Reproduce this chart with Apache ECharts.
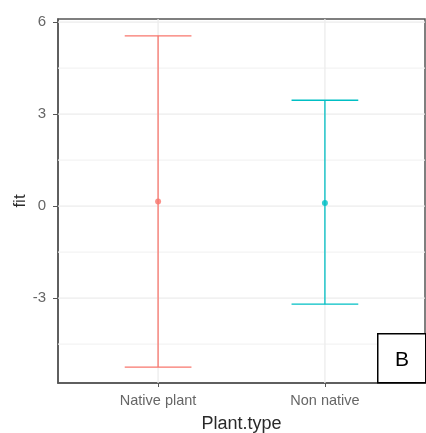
<!DOCTYPE html>
<html>
<head>
<meta charset="utf-8">
<script src="https://cdn.jsdelivr.net/npm/echarts@6/dist/echarts.min.js"></script>
<style>html,body{margin:0;padding:0;background:#fff}#c{width:426px;height:433px}</style>
</head>
<body>
<div id="c"></div>
<script>
const categories = ['Native plant', 'Non native'];
const fitValues = [0.15, 0.1];
const lowerValues = [-5.25, -3.2];
const upperValues = [5.55, 3.45];
const seriesColors = ['#F8766D', '#00BFC4'];
const yTicks = [-3, 0, 3, 6];
const yMinorTicks = [-4.5, -1.5, 1.5, 4.5];
const xPositions = [1, 2];

const Y_MIN = -5.77, Y_MAX = 6.1, X_MIN = 0.4, X_MAX = 2.6, CAP = 0.2;

const chart = echarts.init(document.getElementById('c'), null, {renderer: 'canvas'});

const errData = categories.map((c, i) => [xPositions[i], lowerValues[i], upperValues[i], i]);
const ptData = categories.map((c, i) => ({value: [xPositions[i], fitValues[i]], itemStyle: {color: seriesColors[i]}}));

chart.setOption({
  animation: false,
  grid: {left: 58, top: 19, right: 1, bottom: 50, containLabel: false, outerBoundsMode: 'none', show: true, borderColor: '#555', borderWidth: 1.5, backgroundColor: '#fff'},
  xAxis: {
    type: 'value', min: X_MIN, max: X_MAX,
    axisLine: {show: true, onZero: false, lineStyle: {color: '#555', width: 1.5}},
    axisTick: {show: true, customValues: xPositions, length: 4, lineStyle: {color: '#555'}},
    axisLabel: {customValues: xPositions, formatter: v => categories[Math.round(v) - 1], color: '#666', fontSize: 14.5, fontFamily: 'Liberation Sans', margin: 10},
    splitLine: {show: false},
    name: 'Plant.type', nameLocation: 'middle', nameGap: 32,
    nameTextStyle: {color: '#2a2a2a', fontSize: 18, fontFamily: 'Liberation Sans'}
  },
  yAxis: {
    type: 'value', min: Y_MIN, max: Y_MAX,
    axisLine: {show: true, onZero: false, lineStyle: {color: '#555', width: 1.5}},
    axisTick: {show: true, customValues: yTicks, length: 5, lineStyle: {color: '#555'}},
    axisLabel: {customValues: yTicks, color: '#666', fontSize: 15, fontFamily: 'Liberation Sans', margin: 12},
    splitLine: {show: false},
    name: 'fit', nameLocation: 'middle', nameGap: 29, nameMoveOverlap: false, nameRotate: 90,
    nameTextStyle: {color: '#2a2a2a', fontSize: 17, fontFamily: 'Liberation Sans'}
  },
  series: [
    {
      type: 'custom', z: 1, silent: true,
      data: [0],
      renderItem: (params, api) => {
        const children = [];
        const x0 = api.coord([X_MIN, 0])[0], x1 = api.coord([X_MAX, 0])[0];
        const yt = api.coord([0, Y_MAX])[1], yb = api.coord([0, Y_MIN])[1];
        yMinorTicks.forEach(v => {
          const y = api.coord([0, v])[1];
          children.push({type: 'line', shape: {x1: x0, y1: y, x2: x1, y2: y}, style: {stroke: '#f3f3f3', lineWidth: 1.2}});
        });
        yTicks.forEach(v => {
          const y = api.coord([0, v])[1];
          children.push({type: 'line', shape: {x1: x0, y1: y, x2: x1, y2: y}, style: {stroke: '#ececec', lineWidth: 1.3}});
        });
        xPositions.forEach(v => {
          const x = api.coord([v, 0])[0];
          children.push({type: 'line', shape: {x1: x, y1: yt, x2: x, y2: yb}, style: {stroke: '#ececec', lineWidth: 1.3}});
        });
        return {type: 'group', children};
      }
    },
    {
      type: 'custom', z: 3,
      data: errData,
      renderItem: (params, api) => {
        const x = api.value(0), lo = api.value(1), hi = api.value(2), idx = api.value(3);
        const pLo = api.coord([x, lo]), pHi = api.coord([x, hi]);
        const l = api.coord([x - CAP, lo])[0], r = api.coord([x + CAP, lo])[0];
        const st = {stroke: seriesColors[idx], lineWidth: 1.3};
        return {type: 'group', children: [
          {type: 'line', shape: {x1: pLo[0], y1: pLo[1], x2: pHi[0], y2: pHi[1]}, style: st},
          {type: 'line', shape: {x1: l, y1: pHi[1], x2: r, y2: pHi[1]}, style: st},
          {type: 'line', shape: {x1: l, y1: pLo[1], x2: r, y2: pLo[1]}, style: st}
        ]};
      }
    },
    {
      type: 'scatter', z: 4, symbolSize: 6,
      data: ptData
    }
  ],
  graphic: [
    {type: 'rect', left: 377, top: 333, shape: {width: 48, height: 49}, style: {fill: '#fff', stroke: '#000', lineWidth: 1.5}, z: 100},
    {type: 'text', x: 402, y: 360, style: {text: 'B', fontSize: 21, fontFamily: 'Liberation Sans', fill: '#000', align: 'center', verticalAlign: 'middle'}, z: 101}
  ]
});
</script>
</body>
</html>
